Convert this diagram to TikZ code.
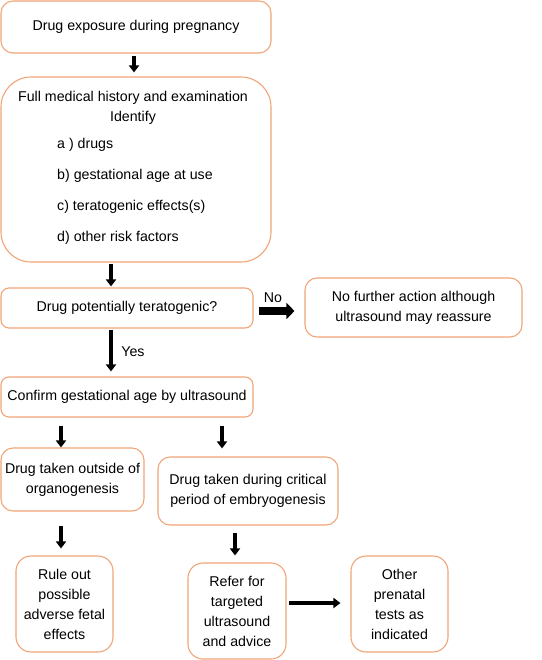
\documentclass[tikz,border=0pt]{standalone}
\usepackage{fontspec}
\setmainfont{Liberation Sans}
\usetikzlibrary{arrows.meta}
\definecolor{boxline}{RGB}{240,165,120}
\begin{document}
\begin{tikzpicture}[x=1pt,y=-1pt,
  box/.style={draw=boxline,line width=1.1pt,rounded corners=10pt,align=center,
    inner sep=0pt,font=\fontsize{14.2}{20}\selectfont},
  txt/.style={inner sep=0pt,font=\fontsize{14.2}{20}\selectfont},
  arr/.style={line width=4.5pt,-{Triangle[width=10pt,length=7pt]}},
  bigarr/.style={line width=8pt,-{Triangle[width=16pt,length=8pt]}}]
\useasboundingbox (0,0) rectangle (541,660);

\node[box,minimum width=270pt,minimum height=52pt,rounded corners=12pt] (b1) at (136,27) {Drug exposure during pregnancy};
\node[box,minimum width=270pt,minimum height=185pt,rounded corners=30pt] (b2) at (136,169.5) {};
\node[txt,anchor=center] (t1) at (133,98) {Full medical history and examination};
\node[txt,anchor=center] (t2) at (133,118) {Identify};
\node[txt,anchor=west] (ta) at (57,145) {a ) drugs};
\node[txt,anchor=west] (tb) at (57,176) {b) gestational age at use};
\node[txt,anchor=west] (tc) at (57,207) {c) teratogenic effects(s)};
\node[txt,anchor=west] (td) at (57,238) {d) other risk factors};

\node[box,minimum width=252pt,minimum height=40pt,rounded corners=8pt] (b3) at (127,308) {Drug potentially teratogenic?};
\node[box,minimum width=217pt,minimum height=59pt,rounded corners=12pt] (b4) at (413.5,307.5) {No further action although\\ultrasound may reassure};
\node[box,minimum width=252pt,minimum height=40pt,rounded corners=8pt] (b5) at (127,397) {Confirm gestational age by ultrasound};
\node[box,minimum width=143pt,minimum height=63pt,rounded corners=12pt] (b6) at (72.5,479.5) {Drug taken outside of\\organogenesis};
\node[box,minimum width=180pt,minimum height=68pt,rounded corners=12pt] (b7) at (248,491) {Drug taken during critical\\period of embryogenesis};
\node[box,minimum width=97pt,minimum height=96pt,rounded corners=15pt] (b8) at (64.5,604) {Rule out\\possible\\adverse fetal\\effects};
\node[box,minimum width=98pt,minimum height=96pt,rounded corners=15pt] (b9) at (237,611) {Refer for\\targeted\\ultrasound\\and advice};
\node[box,minimum width=97pt,minimum height=96pt,rounded corners=15pt] (b10) at (399.5,604) {Other\\prenatal\\tests as\\indicated};

\node[txt] (lno) at (273,298) {No};
\node[txt] (lyes) at (133,352) {Yes};

\draw[arr] ([xshift=-2pt,yshift=-2pt]b1.south) -- ([xshift=-2pt,yshift=4pt]b2.north);
\draw[arr] ([xshift=-25pt,yshift=-1pt]b2.south) -- ([xshift=-16pt,yshift=1pt]b3.north);
\draw[arr] ([xshift=-16pt,yshift=-1pt]b3.south) -- ([xshift=-16pt,yshift=5pt]b5.north);
\draw[bigarr] ([xshift=5pt,yshift=-3pt]b3.east) -- ([xshift=-10pt,yshift=-3.5pt]b4.west);
\draw[arr] ([xshift=-66pt,yshift=-8pt]b5.south) -- ([xshift=-11.5pt,yshift=0pt]b6.north);
\draw[arr] ([xshift=95pt,yshift=-8pt]b5.south) -- ([xshift=-26pt,yshift=8pt]b7.north);
\draw[arr] ([xshift=-11.5pt,yshift=-14pt]b6.south) -- ([xshift=-3.5pt,yshift=7pt]b8.north);
\draw[arr] ([xshift=-13pt,yshift=-7pt]b7.south) -- ([xshift=-2pt,yshift=7pt]b9.north);
\draw[arr] ([xshift=2pt,yshift=8pt]b9.east) -- ([xshift=-10pt,yshift=1pt]b10.west);
\end{tikzpicture}
\end{document}
